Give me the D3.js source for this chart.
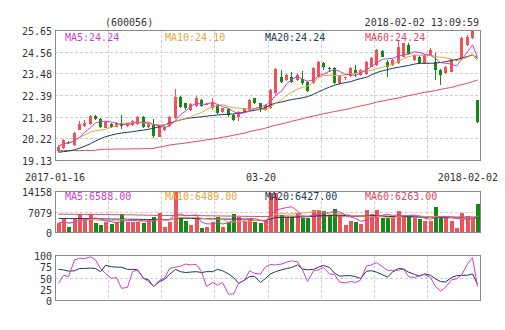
<!DOCTYPE html>
<html><head><meta charset="utf-8">
<script src="https://cdn.jsdelivr.net/npm/d3@7"></script>
<style>
body{margin:0;background:#fff;}
svg{display:block;}
text{font-family:"DejaVu Sans Mono","Liberation Mono",monospace;font-size:10px;fill:#333;}
</style>
</head><body>
<svg id="c" width="505" height="330"></svg>
<script>
// ---------- data ----------
const opens  = [19.56,19.72,20.02,19.88,20.64,20.82,20.94,21.34,21.19,20.75,20.94,20.80,21.00,20.84,20.89,20.94,21.27,20.80,20.89,20.30,
                20.64,20.84,21.22,22.31,21.97,21.64,21.84,22.14,21.94,21.72,21.89,21.52,21.67,21.39,21.30,21.55,21.64,22.22,21.97,21.64,
                21.72,22.47,23.31,23.14,23.31,23.14,23.19,23.06,22.98,23.31,23.98,23.73,23.73,22.98,23.25,23.34,23.64,23.39,23.44,23.81,
                23.89,24.61,24.06,23.89,23.98,24.31,24.90,24.15,24.31,23.98,24.40,24.06,23.66,23.48,23.56,24.15,24.23,24.90,25.23,22.14];
const closes = [19.80,20.13,19.98,20.50,20.92,21.00,21.35,21.18,20.80,21.05,20.80,21.00,20.84,20.97,21.10,21.30,20.80,20.97,20.33,20.84,
                20.80,21.30,22.31,21.77,21.72,21.94,22.26,21.84,21.95,22.05,21.50,21.72,21.37,21.14,21.55,21.72,22.14,21.97,21.64,21.89,
                22.64,23.68,23.06,23.39,23.06,23.39,22.98,22.61,23.73,24.06,23.81,23.70,22.98,23.34,23.30,23.73,23.48,23.64,24.06,24.23,
                24.65,24.31,23.81,24.15,24.81,24.98,24.45,24.40,23.98,24.40,24.65,23.64,23.41,23.81,24.18,24.18,25.23,25.32,25.62,21.05];
const highs  = [19.88,20.18,20.08,20.55,21.10,21.12,21.40,21.38,21.22,21.10,20.98,21.05,21.39,21.00,21.14,21.34,21.34,21.00,21.19,20.90,
                20.85,21.35,22.67,22.35,22.00,22.00,22.35,22.18,22.00,22.26,21.95,21.75,21.72,21.42,21.58,21.75,22.20,22.26,22.00,21.94,
                22.70,23.72,23.64,23.45,23.56,23.44,23.59,23.10,23.78,24.10,24.06,23.81,23.81,23.38,23.31,23.78,23.89,23.70,24.10,24.30,
                24.70,24.65,24.15,24.20,25.15,25.02,25.00,24.45,24.35,24.45,24.75,24.48,23.70,23.85,24.22,24.22,25.30,25.38,25.65,22.14];
const lows   = [19.52,19.70,19.92,19.85,20.62,20.78,20.90,21.15,20.72,20.72,20.76,20.78,20.67,20.80,20.85,20.90,20.75,20.75,20.25,20.28,
                20.60,20.80,21.20,21.72,21.65,21.60,21.80,21.80,21.88,21.64,21.45,21.50,21.30,21.10,21.10,21.50,21.60,21.94,21.55,21.60,
                21.70,22.40,23.00,23.10,22.98,23.10,22.89,22.55,22.95,23.28,23.64,23.56,22.92,22.90,23.14,23.30,23.31,23.35,23.40,23.78,
                23.85,24.28,23.28,23.85,23.95,24.28,24.38,24.12,23.95,23.95,24.38,23.14,22.91,23.45,23.52,24.10,24.20,24.85,25.20,21.00];
const ma20 = [19.52,19.55,19.58,19.64,19.72,19.82,19.95,20.08,20.20,20.30,20.38,20.44,20.48,20.52,20.55,20.59,20.63,20.67,20.72,20.80,
              20.89,20.98,21.07,21.14,21.20,21.24,21.27,21.30,21.33,21.36,21.39,21.41,21.43,21.44,21.48,21.53,21.58,21.62,21.68,21.76,
              21.90,21.98,22.04,22.10,22.16,22.21,22.25,22.31,22.42,22.55,22.66,22.79,22.88,22.95,23.01,23.06,23.14,23.21,23.28,23.40,
              23.51,23.60,23.66,23.73,23.78,23.83,23.87,23.94,23.98,23.98,23.98,23.99,24.02,24.06,24.12,24.17,24.23,24.32,24.40,24.24];
const ma60 = [19.60,19.60,19.60,19.60,19.60,19.61,19.61,19.62,19.66,19.67,19.67,19.68,19.68,19.68,19.69,19.69,19.70,19.70,19.71,19.78,
              19.82,19.88,19.92,19.95,19.98,20.02,20.06,20.10,20.14,20.18,20.22,20.27,20.32,20.37,20.42,20.48,20.55,20.61,20.67,20.73,
              20.80,20.87,20.94,21.00,21.07,21.14,21.20,21.27,21.33,21.39,21.45,21.51,21.56,21.61,21.66,21.72,21.78,21.84,21.90,21.96,
              22.03,22.09,22.14,22.19,22.24,22.30,22.36,22.42,22.47,22.52,22.57,22.62,22.67,22.72,22.77,22.84,22.91,22.98,23.06,23.14];
const volumes = [2993,4374,1842,4374,6215,4374,6215,2993,2417,3568,2762,3568,6215,3568,3568,3568,2993,4144,5064,6676,
                 1842,3568,13927,4719,3913,2417,4719,1266,1842,3568,5295,1842,3568,6215,5295,3913,4144,3568,2993,4144,
                 13582,13582,5870,5064,5295,6676,4719,4719,7597,7597,7366,5870,7827,5870,2417,3913,3568,2762,7597,6215,
                 7597,4719,4719,5295,7366,5870,5064,4719,4374,3913,3913,8748,5064,4719,3913,1266,6676,5525,5295,9553];
const volMa20 = [4700,4680,4650,4640,4650,4660,4680,4620,4560,4520,4480,4450,4470,4430,4400,4380,4330,4300,4310,4380,
                 4300,4280,4750,4760,4720,4680,4700,4600,4550,4520,4550,4480,4450,4480,4500,4470,4420,4000,3950,3980,
                 4500,5000,5050,5080,5100,5150,5160,5300,5450,5600,5650,5700,5800,5820,5700,5650,5600,5550,5600,5620,
                 5700,5550,5450,5400,5420,5350,5300,5200,5150,5100,5050,5100,5000,4950,4900,4800,4850,4830,4800,4900];
const volMa60 = [6150,6140,6120,6110,6100,6090,6080,6060,6050,6030,6000,5980,5960,5930,5900,5870,5840,5800,5770,5740,
                 5700,5680,5800,5780,5750,5720,5690,5650,5620,5590,5560,5530,5500,5480,5450,5420,5400,5380,5350,5330,
                 5450,5560,5540,5520,5500,5490,5470,5480,5500,5510,5500,5490,5500,5480,5450,5430,5400,5380,5390,5380,
                 5370,5350,5330,5320,5310,5300,5290,5270,5250,5230,5220,5250,5240,5230,5210,5180,5190,5200,5210,5280];
const kLine = [37,55,52,89,93,92,96,89,70,59,48,50,26,28,63,67,48,41,30,44,48,70,73,75,80,78,79,63,30,39,
               33,39,13,13,37,44,65,59,58,74,79,78,80,84,87,85,67,41,65,67,72,58,57,40,38,41,39,44,76,78,
               83,74,66,66,66,69,52,50,54,57,50,30,20,28,45,47,55,80,94,30];
const dLine = [68,67,64,65,70,70,71,70,63,77,74,73,73,68,68,67,48,45,30,41,46,57,68,63,61,62,63,61,63,63,
               68,65,58,50,37,44,52,53,39,48,58,63,67,70,72,78,69,67,68,73,77,72,60,53,54,54,52,48,64,65,
               62,56,51,62,70,69,62,57,53,58,55,47,41,40,50,54,55,55,58,35];
const priceTicks = [25.65,24.56,23.48,22.39,21.30,20.22,19.13];
const volTicks = [14158,7079,0];
const kdjTicks = [100,75,50,25,0];
const dateLabels = ["2017-01-16","03-20","2018-02-02"];
const priceLegend = ["MA5:24.24","MA10:24.10","MA20:24.24","MA60:24.24"];
const volLegend = ["MA5:6588.00","MA10:6489.00","MA20:6427.00","MA60:6263.00"];
const titleText = "(600056)";
const stampText = "2018-02-02 13:09:59";

// ---------- styles ----------
const UP = "#F0525A", DOWN = "#138A13";
const C5 = "#CC3FCC", C10 = "#E8A53A", C20 = "#1A3A58", C60 = "#E04A5E";
const legendColors = [C5, C10, C20, C60];

const svg = d3.select("#c");
const L = 55, R = 480;
const N = closes.length;
const x = d3.scaleBand().domain(d3.range(N)).range([L, R]);
const cx = i => Math.round(x(i) + x.bandwidth() / 2);

const yP = d3.scaleLinear().domain([19.13, 25.65]).range([160, 30]);
const yV = d3.scaleLinear().domain([0, 14158]).range([232, 191]);
const yK = d3.scaleLinear().domain([0, 100]).range([300, 255]);

function ma(arr, n) {
  return arr.map((_, i) => d3.mean(arr.slice(Math.max(0, i - n + 1), i + 1)));
}

function grid(g, y0, y1, hVals, yScale) {
  for (let k = 10; k < N; k += 10) {
    const gx = Math.round(x(k)) + 0.5;
    g.append("line").attr("x1", gx).attr("x2", gx).attr("y1", y0).attr("y2", y1)
      .attr("stroke", "#cfcfcf").attr("stroke-dasharray", "3,2");
  }
  hVals.forEach(v => {
    const gy = Math.round(yScale(v)) + 0.5;
    g.append("line").attr("x1", L).attr("x2", R).attr("y1", gy).attr("y2", gy)
      .attr("stroke", "#cfcfcf").attr("stroke-dasharray", "3,2");
  });
}
function frame(y0, y1) {
  svg.append("rect").attr("x", L + 0.5).attr("y", y0 + 0.5).attr("width", R - L).attr("height", y1 - y0)
    .attr("fill", "none").attr("stroke", "#8a8a8a");
}
function leftAxis(yScale, ticks, fmt) {
  const ax = d3.axisLeft(yScale).tickValues(ticks).tickSize(0).tickPadding(3).tickFormat(fmt);
  const g = svg.append("g").attr("transform", `translate(${L},0)`).call(ax);
  g.select(".domain").remove();
  g.selectAll("text").attr("dy", "0.45em").style("font-family", '"DejaVu Sans Mono",monospace')
    .style("font-size", "10px").attr("fill", "#333");
}
function lineOf(yScale, data, color) {
  const ln = d3.line().x((d, i) => cx(i) + 0.5).y(d => yScale(d));
  svg.append("path").attr("d", ln(data)).attr("fill", "none").attr("stroke", color).attr("stroke-width", 1);
}

// ---------- top texts ----------
svg.append("text").attr("x", 105).attr("y", 25.5).text(titleText);
svg.append("text").attr("x", 479).attr("y", 25.5).attr("text-anchor", "end").text(stampText);

// ---------- price panel ----------
grid(svg.append("g"), 30, 160, priceTicks.slice(1, -1), yP);
const candles = svg.append("g").attr("shape-rendering", "crispEdges");
d3.range(N).forEach(i => {
  const up = closes[i] >= opens[i];
  const col = up ? UP : DOWN;
  candles.append("line").attr("x1", cx(i) + 0.5).attr("x2", cx(i) + 0.5)
    .attr("y1", yP(highs[i])).attr("y2", yP(lows[i])).attr("stroke", col);
  const top = yP(Math.max(opens[i], closes[i])), bot = yP(Math.min(opens[i], closes[i]));
  candles.append("rect").attr("x", cx(i) - 1).attr("width", 3)
    .attr("y", top).attr("height", Math.max(1, bot - top)).attr("fill", col);
});
lineOf(yP, ma60, C60);
lineOf(yP, ma20, C20);
lineOf(yP, ma(closes, 10), C10);
lineOf(yP, ma(closes, 5), C5);
frame(30, 160);
leftAxis(yP, priceTicks, d3.format(".2f"));
priceLegend.forEach((t, k) => {
  svg.append("text").attr("x", 65 + 100 * k).attr("y", 40.5).style("fill", legendColors[k]).text(t);
});

// ---------- date labels ----------
svg.append("text").attr("x", 55).attr("y", 180.5).attr("text-anchor", "middle").text(dateLabels[0]);
svg.append("text").attr("x", 261).attr("y", 180.5).attr("text-anchor", "middle").text(dateLabels[1]);
svg.append("text").attr("x", 498).attr("y", 180.5).attr("text-anchor", "end").text(dateLabels[2]);

// ---------- volume panel ----------
grid(svg.append("g"), 191, 232, [volTicks[1]], yV);
const vb = svg.append("g").attr("shape-rendering", "crispEdges");
d3.range(N).forEach(i => {
  const col = closes[i] >= opens[i] ? UP : DOWN;
  vb.append("rect").attr("x", cx(i) - 1).attr("width", 3.5)
    .attr("y", yV(volumes[i])).attr("height", yV(0) - yV(volumes[i])).attr("fill", col);
});
lineOf(yV, volMa60, C60);
lineOf(yV, volMa20, C20);
lineOf(yV, ma(volumes, 10), C10);
lineOf(yV, ma(volumes, 5), C5);
frame(191, 232);
leftAxis(yV, volTicks, d3.format("d"));
volLegend.forEach((t, k) => {
  svg.append("text").attr("x", 65 + 100 * k).attr("y", 200).style("fill", legendColors[k]).text(t);
});

// ---------- KDJ panel ----------
grid(svg.append("g"), 255, 300, [50], yK);
lineOf(yK, dLine, C20);
lineOf(yK, kLine, C5);
frame(255, 300);
leftAxis(yK, kdjTicks, d3.format("d"));
</script>
</body></html>
